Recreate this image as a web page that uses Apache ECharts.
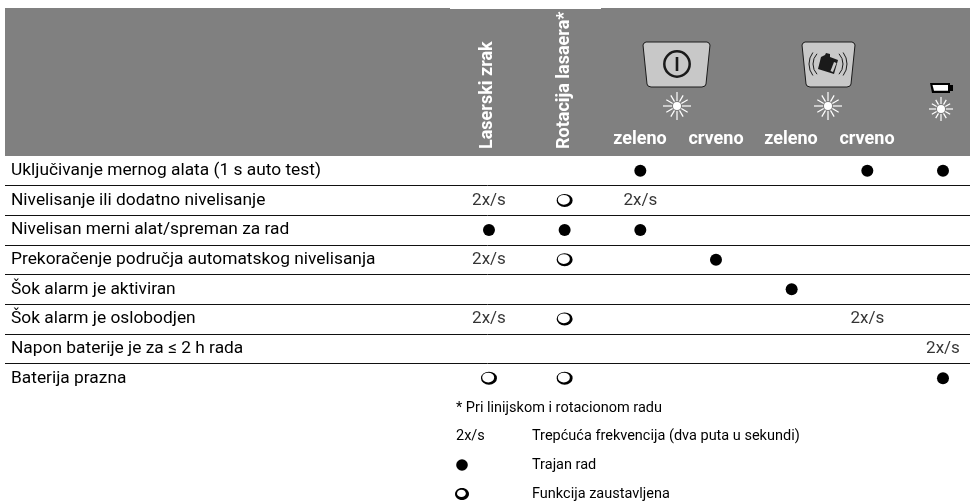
<!DOCTYPE html>
<html>
<head>
<meta charset="utf-8">
<style>
  html, body { margin: 0; padding: 0; background: #fff; }
  #chart { width: 970px; height: 502px; }
</style>
<script src="https://cdn.jsdelivr.net/npm/echarts@6/dist/echarts.min.js"></script>
</head>
<body>
<div id="chart"></div>
<script>
const rowLabels = [
  'Uključivanje mernog alata (1 s auto test)',
  'Nivelisanje ili dodatno nivelisanje',
  'Nivelisan merni alat/spreman za rad',
  'Prekoračenje područja automatskog nivelisanja',
  'Šok alarm je aktiviran',
  'Šok alarm je oslobodjen',
  'Napon baterije je za ≤ 2 h rada',
  'Baterija prazna'
];
const rotatedHeads = ['Laserski zrak', 'Rotacija lasaera*'];
const colorHeads = ['zeleno', 'crveno', 'zeleno', 'crveno'];
// F = stalno, O = zaustavljeno, B = 2x/s, one entry per column
const cellCodes = [
  ['', '', 'F', '', '', 'F', 'F'],
  ['B', 'O', 'B', '', '', '', ''],
  ['F', 'F', 'F', '', '', '', ''],
  ['B', 'O', '', 'F', '', '', ''],
  ['', '', '', '', 'F', '', ''],
  ['B', 'O', '', '', '', 'B', ''],
  ['', '', '', '', '', '', 'B'],
  ['O', 'O', '', '', '', '', 'F']
];
const blinkLabel = '2x/s';
const footnote = '* Pri linijskom i rotacionom radu';
const legendTexts = ['Trepćuća frekvencija (dva puta u sekundi)', 'Trajan rad', 'Funkcija zaustavljena'];

const FONT = 'Roboto, sans-serif';
const HOLLOW = 'path://M0 6.5A8 6.5 0 1 1 16 6.5A8 6.5 0 1 1 0 6.5ZM1.2 5.9A6 4.9 0 1 0 13.2 5.9A6 4.9 0 1 0 1.2 5.9Z';

function cellsOf(code) {
  const out = [];
  cellCodes.forEach((row, r) => row.forEach((c, i) => { if (c === code) out.push([i, r]); }));
  return out;
}

function headText(text, x, y, rot) {
  return {
    type: 'text', x: x, y: y, rotation: rot || 0,
    style: { text: text, fill: '#fff', font: 'bold 18px ' + FONT, textAlign: rot ? 'left' : 'center', textVerticalAlign: 'middle' }
  };
}

function bodyText(text, x, y) {
  return {
    type: 'text', x: x, y: y,
    style: { text: text, fill: '#000', font: '14.5px ' + FONT, textAlign: 'left', textVerticalAlign: 'middle' }
  };
}

function sun(cx, cy, r) {
  const kids = [{ type: 'circle', shape: { cx: cx, cy: cy, r: 4 }, style: { fill: '#fff' } }];
  for (let i = 0; i < 12; i++) {
    const a = i * Math.PI / 6;
    const len = i % 3 === 0 ? r : r * 0.88;
    kids.push({
      type: 'line',
      shape: { x1: cx + Math.cos(a) * 5, y1: cy + Math.sin(a) * 5, x2: cx + Math.cos(a) * len, y2: cy + Math.sin(a) * len },
      style: { stroke: '#fff', lineWidth: 1.2 }
    });
  }
  return { type: 'group', children: kids };
}

function keyButton(x0, x1, dx) {
  return {
    type: 'polygon',
    shape: {
      points: [
        [x0 + 3, 42], [x1 - 3, 42], [x1 - 1, 43], [x1, 45],
        [x1 - dx, 84], [x1 - dx - 1, 86], [x1 - dx - 4, 87],
        [x0 + dx + 4, 87], [x0 + dx + 1, 86], [x0 + dx, 84],
        [x0, 45], [x0 + 1, 43]
      ]
    },
    style: { fill: '#c8c8c8', stroke: '#1a1a1a', lineWidth: 1 }
  };
}

const graphics = [
  { type: 'rect', shape: { x: 5, y: 8, width: 965, height: 148 }, style: { fill: '#808080' } },
  { type: 'rect', shape: { x: 450, y: 0, width: 151, height: 9 }, style: { fill: '#fff' } },
  headText(rotatedHeads[0], 487.5, 149, Math.PI / 2),
  headText(rotatedHeads[1], 564, 149, Math.PI / 2),
  // power key
  keyButton(643, 710, 4),
  { type: 'circle', shape: { cx: 677, cy: 64, r: 12.7 }, style: { fill: 'none', stroke: '#1a1a1a', lineWidth: 2.5 } },
  { type: 'rect', shape: { x: 675.7, y: 57, width: 2.6, height: 14 }, style: { fill: '#1a1a1a' } },
  sun(677, 106, 14),
  // shock key
  keyButton(802, 855, 4),
  { type: 'arc', shape: { cx: 828, cy: 64, r: 15, startAngle: -0.75, endAngle: 0.75 }, style: { fill: 'none', stroke: '#1a1a1a', lineWidth: 1 } },
  { type: 'arc', shape: { cx: 828, cy: 64, r: 19, startAngle: -0.65, endAngle: 0.65 }, style: { fill: 'none', stroke: '#1a1a1a', lineWidth: 1 } },
  { type: 'arc', shape: { cx: 828, cy: 64, r: 15, startAngle: Math.PI - 0.75, endAngle: Math.PI + 0.75 }, style: { fill: 'none', stroke: '#1a1a1a', lineWidth: 1 } },
  { type: 'arc', shape: { cx: 828, cy: 64, r: 19, startAngle: Math.PI - 0.65, endAngle: Math.PI + 0.65 }, style: { fill: 'none', stroke: '#1a1a1a', lineWidth: 1 } },
  { type: 'polygon', shape: { points: [[821, 57], [825, 55], [826, 53], [830, 54], [830, 57], [838, 60], [834, 74], [818, 69]] }, style: { fill: '#1a1a1a' } },
  { type: 'polygon', shape: { points: [[834, 62], [836.5, 63], [833, 72], [830.5, 71]] }, style: { fill: '#c8c8c8' } },
  sun(828, 106, 14),
  // battery
  { type: 'polygon', shape: { points: [[930, 83], [950, 83], [950, 85], [953, 85], [953, 91], [950, 91], [950, 93], [932, 93]] }, style: { fill: '#000' } },
  { type: 'polygon', shape: { points: [[932.5, 85], [948, 85], [948, 90.8], [934, 90.8]] }, style: { fill: '#fff' } },
  sun(941, 109, 12),
  // footnotes
  bodyText(footnote, 456, 408),
  bodyText(blinkLabel, 456, 436),
  bodyText(legendTexts[0], 532, 436),
  { type: 'circle', shape: { cx: 462, cy: 465, r: 5.8 }, style: { fill: '#000' } },
  bodyText(legendTexts[1], 532, 465),
  { type: 'ellipse', shape: { cx: 462, cy: 494, rx: 7, ry: 6 }, style: { fill: '#000' } },
  { type: 'ellipse', shape: { cx: 461.4, cy: 493.4, rx: 4.4, ry: 3.6 }, style: { fill: '#fff' } },
  bodyText(legendTexts[2], 532, 494)
];
[640, 716, 791, 867].forEach((x, i) => graphics.push(headText(colorHeads[i], x, 139)));

const chart = echarts.init(document.getElementById('chart'), null, { renderer: 'canvas' });

chart.setOption({
  animation: false,
  backgroundColor: '#fff',
  graphic: graphics,
  grid: { left: 5, right: 0, top: 156, bottom: 109 },
  xAxis: { type: 'value', min: -6.396, max: 6.357, show: false },
  yAxis: {
    type: 'category',
    data: rowLabels,
    inverse: true,
    axisLine: { show: false },
    axisTick: { show: false },
    axisLabel: { inside: true, margin: 6, color: '#000', fontFamily: FONT, fontSize: 17.35 },
    splitLine: { show: true, showMinLine: false, showMaxLine: false, lineStyle: { color: '#111', width: 1 } }
  },
  series: [
    { name: 'stalno', type: 'scatter', symbol: 'circle', symbolSize: 12, itemStyle: { color: '#000', opacity: 1 }, data: cellsOf('F') },
    { name: 'zaustavljeno', type: 'scatter', symbol: HOLLOW, symbolSize: [16, 13], itemStyle: { color: '#000', opacity: 1 }, data: cellsOf('O') },
    {
      name: 'treptanje', type: 'scatter', symbolSize: 0, data: cellsOf('B'),
      label: { show: true, position: 'inside', formatter: blinkLabel, color: '#000', fontFamily: FONT, fontSize: 17 }
    }
  ]
});

window.addEventListener('resize', () => chart.resize());
</script>
</body>
</html>
